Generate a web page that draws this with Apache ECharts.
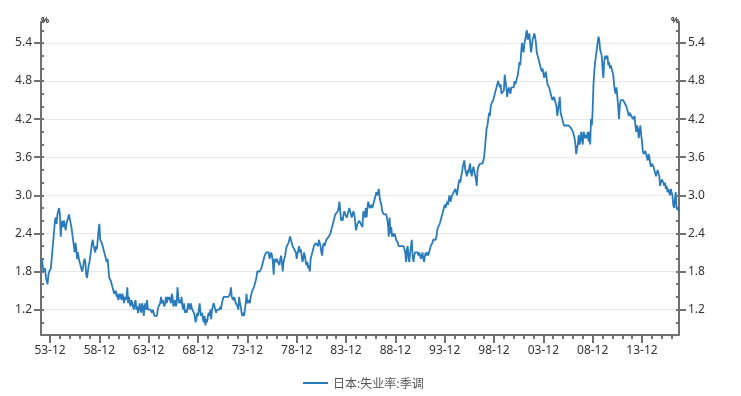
<!DOCTYPE html>
<html>
<head>
<meta charset="utf-8">
<script src="https://cdn.jsdelivr.net/npm/echarts@6/dist/echarts.min.js"></script>
<style>
html,body{margin:0;padding:0;background:#fff;}
#chart{width:741px;height:396px;}
</style>
</head>
<body>
<div id="chart"></div>
<script>
// 日本:失业率:季调, monthly, starting 1953-01
const startYear = 1953;
const seriesName = '日本:失业率:季调';
const rate = [
  1.95, 2.0, 1.9, 1.8, 1.8, 1.85, 1.7, 1.65, 1.6, 1.75, 1.8, 1.8,        // 1953
  1.85, 2.0, 2.15, 2.3, 2.45, 2.6, 2.65, 2.55, 2.7, 2.75, 2.8, 2.7,      // 1954
  2.35, 2.55, 2.6, 2.5, 2.6, 2.6, 2.45, 2.55, 2.6, 2.65, 2.7, 2.72,      // 1955
  2.7, 2.5, 2.4, 2.3, 2.2, 2.1, 2.25, 2.15, 2.0, 2.1, 2.0, 2.0,          // 1956
  1.9, 1.85, 1.8, 1.85, 1.95, 2.0, 1.95, 1.75, 1.7, 1.8, 1.9, 1.95,      // 1957
  2.05, 2.15, 2.25, 2.3, 2.2, 2.15, 2.1, 2.2, 2.15, 2.3, 2.45, 2.55,     // 1958
  2.3, 2.3, 2.25, 2.2, 2.15, 2.1, 2.05, 2.0, 1.95, 2.0, 1.85, 1.7,       // 1959
  1.7, 1.65, 1.6, 1.55, 1.5, 1.45, 1.45, 1.5, 1.4, 1.45, 1.35, 1.4,      // 1960
  1.45, 1.4, 1.35, 1.45, 1.4, 1.3, 1.4, 1.35, 1.4, 1.55, 1.3, 1.4,       // 1961
  1.3, 1.25, 1.35, 1.3, 1.25, 1.2, 1.3, 1.35, 1.2, 1.25, 1.15, 1.2,      // 1962
  1.3, 1.2, 1.15, 1.3, 1.25, 1.1, 1.25, 1.3, 1.2, 1.35, 1.2, 1.2,        // 1963
  1.2, 1.2, 1.2, 1.15, 1.2, 1.2, 1.1, 1.1, 1.1, 1.1, 1.2, 1.25,          // 1964
  1.25, 1.3, 1.4, 1.3, 1.35, 1.35, 1.25, 1.3, 1.4, 1.3, 1.4, 1.35,       // 1965
  1.4, 1.35, 1.3, 1.45, 1.4, 1.25, 1.3, 1.35, 1.25, 1.3, 1.55, 1.4,      // 1966
  1.3, 1.35, 1.3, 1.4, 1.25, 1.2, 1.3, 1.15, 1.2, 1.15, 1.2, 1.3,        // 1967
  1.25, 1.2, 1.3, 1.25, 1.2, 1.2, 1.15, 1.1, 1.0, 1.05, 1.15, 1.1,       // 1968
  1.2, 1.3, 1.15, 1.1, 1.15, 1.05, 1.0, 1.1, 0.95, 1.05, 1.0, 1.1,       // 1969
  1.15, 1.1, 1.2, 1.05, 1.2, 1.25, 1.3, 1.25, 1.2, 1.15, 1.2, 1.2,       // 1970
  1.2, 1.2, 1.25, 1.2, 1.3, 1.35, 1.4, 1.4, 1.4, 1.4, 1.4, 1.4,          // 1971
  1.4, 1.4, 1.45, 1.55, 1.4, 1.4, 1.35, 1.4, 1.35, 1.3, 1.3, 1.25,       // 1972
  1.2, 1.4, 1.3, 1.25, 1.15, 1.1, 1.15, 1.1, 1.2, 1.3, 1.45, 1.3,        // 1973
  1.3, 1.35, 1.3, 1.4, 1.45, 1.5, 1.5, 1.55, 1.6, 1.6, 1.7, 1.8,         // 1974
  1.8, 1.8, 1.8, 1.8, 1.85, 1.9, 1.95, 2.0, 2.05, 2.05, 2.1, 2.1,        // 1975
  2.1, 2.1, 2.0, 2.05, 2.1, 2.05, 1.95, 1.75, 2.0, 2.0, 1.95, 2.0,       // 1976
  1.95, 1.95, 1.9, 2.0, 2.05, 1.95, 1.8, 1.95, 2.0, 2.05, 2.15, 2.2,     // 1977
  2.2, 2.25, 2.3, 2.35, 2.3, 2.25, 2.2, 2.2, 2.15, 2.15, 2.1, 2.0,       // 1978
  2.0, 2.15, 2.2, 2.1, 2.15, 2.05, 1.95, 2.0, 2.1, 2.05, 1.95, 1.9,      // 1979
  1.95, 1.85, 1.9, 1.8, 2.0, 2.05, 2.1, 2.15, 2.2, 2.2, 2.25, 2.25,      // 1980
  2.25, 2.2, 2.3, 2.3, 2.2, 2.1, 2.05, 2.2, 2.25, 2.2, 2.25, 2.3,        // 1981
  2.3, 2.3, 2.35, 2.35, 2.4, 2.45, 2.5, 2.55, 2.6, 2.65, 2.7, 2.7,       // 1982
  2.7, 2.75, 2.8, 2.9, 2.75, 2.6, 2.65, 2.6, 2.7, 2.75, 2.7, 2.7,        // 1983
  2.65, 2.7, 2.75, 2.8, 2.75, 2.7, 2.65, 2.7, 2.75, 2.7, 2.6, 2.45,      // 1984
  2.5, 2.55, 2.55, 2.6, 2.6, 2.55, 2.55, 2.5, 2.75, 2.7, 2.65, 2.8,      // 1985
  2.65, 2.8, 2.9, 2.85, 2.8, 2.8, 2.85, 2.8, 2.85, 2.9, 2.95, 3.0,       // 1986
  3.05, 3.0, 3.05, 3.1, 2.95, 2.9, 2.85, 2.75, 2.75, 2.7, 2.7, 2.7,      // 1987
  2.7, 2.7, 2.55, 2.35, 2.65, 2.4, 2.5, 2.35, 2.4, 2.35, 2.4, 2.35,      // 1988
  2.3, 2.3, 2.25, 2.2, 2.2, 2.2, 2.2, 2.2, 2.2, 2.2, 2.15, 2.1,          // 1989
  1.95, 2.15, 2.2, 2.0, 1.95, 2.1, 2.2, 2.3, 2.05, 1.95, 2.05, 2.1,      // 1990
  2.1, 2.1, 2.1, 2.05, 2.1, 2.1, 2.0, 2.05, 2.1, 2.0, 1.95, 2.05,        // 1991
  2.1, 2.05, 2.1, 2.05, 2.1, 2.15, 2.2, 2.2, 2.25, 2.3, 2.3, 2.3,        // 1992
  2.3, 2.35, 2.45, 2.5, 2.5, 2.55, 2.6, 2.65, 2.7, 2.75, 2.8, 2.85,      // 1993
  2.8, 2.85, 2.9, 2.85, 2.95, 3.0, 2.9, 2.95, 3.0, 3.0, 3.05, 3.05,      // 1994
  3.1, 3.1, 3.0, 3.1, 3.2, 3.25, 3.2, 3.3, 3.35, 3.45, 3.5, 3.55,        // 1995
  3.4, 3.35, 3.3, 3.4, 3.35, 3.45, 3.5, 3.35, 3.3, 3.4, 3.45, 3.45,      // 1996
  3.45, 3.25, 3.15, 3.4, 3.45, 3.45, 3.5, 3.5, 3.5, 3.5, 3.55, 3.6,      // 1997
  3.6, 3.9, 4.05, 4.1, 4.1, 4.3, 4.25, 4.4, 4.45, 4.45, 4.5, 4.55,       // 1998
  4.6, 4.65, 4.7, 4.75, 4.8, 4.8, 4.7, 4.75, 4.6, 4.6, 4.6, 4.65,        // 1999
  4.9, 4.8, 4.7, 4.55, 4.65, 4.7, 4.65, 4.6, 4.7, 4.7, 4.7, 4.7,         // 2000
  4.8, 4.75, 4.8, 4.85, 4.9, 5.0, 5.1, 5.05, 5.25, 5.4, 5.3, 5.25,       // 2001
  5.4, 5.45, 5.55, 5.6, 5.45, 5.5, 5.55, 5.4, 5.25, 5.35, 5.45, 5.5,     // 2002
  5.55, 5.5, 5.4, 5.25, 5.2, 5.15, 5.1, 5.05, 5.0, 4.95, 5.0, 5.0,       // 2003
  4.85, 4.9, 4.95, 4.85, 4.75, 4.75, 4.7, 4.65, 4.6, 4.55, 4.5, 4.5,     // 2004
  4.55, 4.5, 4.45, 4.4, 4.25, 4.35, 4.45, 4.55, 4.3, 4.25, 4.2, 4.15,    // 2005
  4.1, 4.1, 4.1, 4.1, 4.1, 4.1, 4.1, 4.1, 4.1, 4.05, 4.05, 4.0,          // 2006
  3.95, 3.9, 3.8, 3.65, 3.75, 3.8, 3.95, 3.8, 3.85, 4.0, 3.9, 3.8,       // 2007
  4.0, 3.95, 3.9, 3.95, 3.9, 4.0, 3.85, 4.0, 3.8, 4.2, 4.1, 4.35,        // 2008
  4.75, 4.95, 5.1, 5.2, 5.3, 5.4, 5.5, 5.45, 5.3, 5.25, 5.2, 5.0,        // 2009
  4.85, 5.1, 5.2, 5.15, 5.15, 5.2, 5.05, 5.1, 5.0, 5.05, 5.0, 4.95,      // 2010
  4.9, 4.75, 4.65, 4.6, 4.7, 4.55, 4.4, 4.2, 4.4, 4.5, 4.5, 4.5,         // 2011
  4.5, 4.5, 4.45, 4.45, 4.4, 4.35, 4.3, 4.25, 4.3, 4.3, 4.25, 4.25,      // 2012
  4.2, 4.2, 4.25, 4.1, 4.0, 4.1, 4.05, 3.9, 4.0, 4.1, 3.95, 3.85,        // 2013
  3.7, 3.65, 3.65, 3.7, 3.65, 3.6, 3.55, 3.65, 3.6, 3.5, 3.45, 3.5,      // 2014
  3.5, 3.45, 3.4, 3.35, 3.3, 3.35, 3.4, 3.35, 3.3, 3.15, 3.2, 3.25,      // 2015
  3.25, 3.2, 3.15, 3.2, 3.1, 3.15, 3.05, 3.1, 3.05, 3.0, 3.1, 3.05,      // 2016
  3.0, 2.85, 2.8, 2.8, 3.05, 2.8, 2.8, 2.8, 2.75                         // 2017
];
const yTickValues = [1.2, 1.8, 2.4, 3.0, 3.6, 4.2, 4.8, 5.4];
const yMin = 0.8, yMax = 5.73;

const categories = [];
for (let i = 0; i < rate.length; i++) {
  const y = startYear + Math.floor(i / 12);
  const m = (i % 12) + 1;
  categories.push(String(y).slice(2) + '-' + (m < 10 ? '0' + m : m));
}

const axisColor = '#707070';
const labelFont = { color: '#333', fontSize: 12, fontFamily: 'Noto Sans' };
const isMajorX = (idx) => idx % 12 === 11 && Math.floor(idx / 12) % 5 === 0;
const isMinorX = (idx) => idx % 12 === 11;

function mainY(pos) {
  return {
    type: 'value', position: pos, min: yMin, max: yMax,
    name: '%', nameLocation: 'end', nameGap: 2,
    nameTextStyle: { color: '#333', fontSize: 9, fontFamily: 'Noto Sans', fontWeight: 'bold',
                     align: pos === 'left' ? 'left' : 'right', verticalAlign: 'middle' },
    axisLine: { show: true, lineStyle: { color: axisColor, width: 2 } },
    axisTick: { show: true, customValues: yTickValues, length: 7, lineStyle: { color: axisColor, width: 2 } },
    axisLabel: Object.assign({ customValues: yTickValues, margin: 9, formatter: v => Number(v).toFixed(1) }, labelFont),
    splitLine: { show: pos === 'left', lineStyle: { color: '#e8e8e8', width: 1 } }
  };
}
function minorY(pos) {
  return {
    type: 'value', position: pos, min: yMin, max: yMax, interval: 0.2,
    axisLine: { show: false },
    axisTick: { show: true, inside: true, length: 3, lineStyle: { color: axisColor, width: 2 } },
    axisLabel: { show: false },
    splitLine: { show: false }
  };
}

const chart = echarts.init(document.getElementById('chart'));
chart.setOption({
  animation: false,
  backgroundColor: '#fff',
  grid: { left: 41, right: 62, top: 22, bottom: 61, containLabel: false, outerBoundsMode: 'none' },
  legend: {
    left: 298, top: 372, itemWidth: 25, itemHeight: 14, itemGap: 10,
    icon: 'path://M0,0 L25,0 L25,2 L0,2 Z',
    textStyle: { color: '#555', fontSize: 12, fontFamily: 'Noto Sans CJK SC' },
    data: [seriesName]
  },
  xAxis: [
    {
      type: 'category', position: 'bottom', data: categories, boundaryGap: false,
      axisLine: { show: true, lineStyle: { color: axisColor, width: 2 } },
      axisTick: { show: true, length: 8, interval: (i) => isMajorX(i), lineStyle: { color: axisColor, width: 2 } },
      axisLabel: Object.assign({ interval: (i) => isMajorX(i), margin: 10 }, labelFont),
      splitLine: { show: false }
    },
    {
      type: 'category', position: 'bottom', data: categories, boundaryGap: false,
      axisLine: { show: false },
      axisTick: { show: true, length: 4, interval: (i) => isMinorX(i), lineStyle: { color: axisColor, width: 2 } },
      axisLabel: { show: false },
      splitLine: { show: false }
    }
  ],
  yAxis: [mainY('left'), minorY('left'), mainY('right'), minorY('right')],
  series: [{
    name: seriesName, type: 'line', data: rate, xAxisIndex: 0, yAxisIndex: 0,
    symbol: 'none', showSymbol: false,
    lineStyle: { color: '#2a7bbb', width: 1.8 },
    itemStyle: { color: '#2a7bbb' }
  }]
});
</script>
</body>
</html>
